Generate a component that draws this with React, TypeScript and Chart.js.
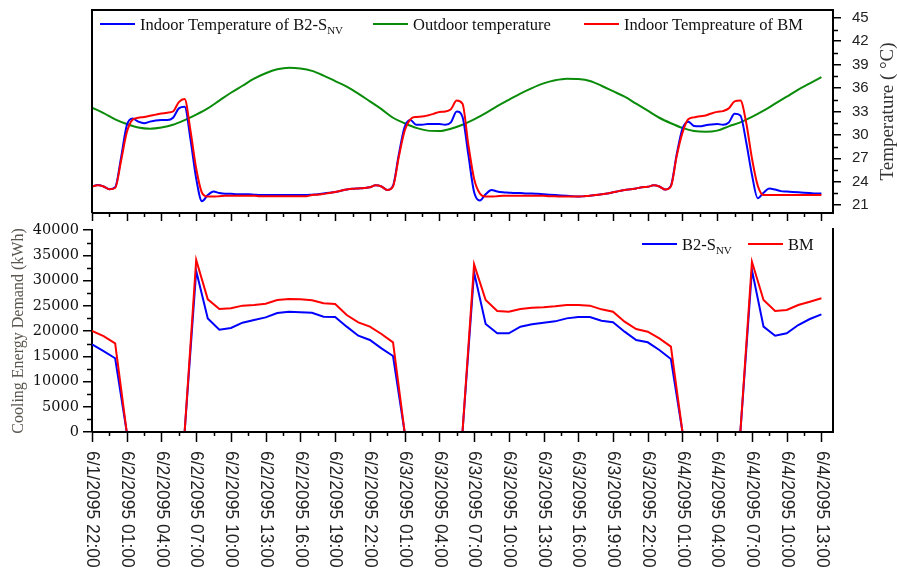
import React, { useEffect, useRef } from 'react';
import { Chart, registerables } from 'chart.js';

Chart.register(...registerables);

// ---------- data ----------
const xTickLabels = [
  '6/1/2095 22:00', '6/2/2095 01:00', '6/2/2095 04:00', '6/2/2095 07:00', '6/2/2095 10:00',
  '6/2/2095 13:00', '6/2/2095 16:00', '6/2/2095 19:00', '6/2/2095 22:00', '6/3/2095 01:00',
  '6/3/2095 04:00', '6/3/2095 07:00', '6/3/2095 10:00', '6/3/2095 13:00', '6/3/2095 16:00',
  '6/3/2095 19:00', '6/3/2095 22:00', '6/4/2095 01:00', '6/4/2095 04:00', '6/4/2095 07:00',
  '6/4/2095 10:00', '6/4/2095 13:00',
];
const tickStepHours = 3;
const axisMaxHours = 64;

// hourly outdoor temperature (°C), from 6/1 22:00
const outdoorTemp = [
  33.5, 32.8, 32.0, 31.4, 30.95, 30.8, 30.95, 31.3, 31.9, 32.6,
  33.4, 34.4, 35.4, 36.3, 37.2, 37.9, 38.4, 38.6, 38.5, 38.2,
  37.6, 36.9, 36.2, 35.3, 34.3, 33.3, 32.2, 31.5, 30.9, 30.55,
  30.5, 30.8, 31.3, 32.0, 32.8, 33.7, 34.5, 35.3, 36.0, 36.6,
  37.0, 37.2, 37.15, 36.9, 36.3, 35.6, 34.9, 34.0, 33.1, 32.2,
  31.5, 30.9, 30.5, 30.4, 30.55, 31.1, 31.6, 32.3, 33.1, 34.0,
  34.9, 35.8, 36.6, 37.4,
];

// half-hourly indoor temperature of B2-S_NV (°C)
const indoorTempB2 = [
  23.4, 23.6, 23.4, 23.05, 23.3, 27.0, 31.2, 32.1, 31.7, 31.5,
  31.7, 31.85, 31.9, 31.9, 32.2, 33.4, 33.6, 29.5, 24.4, 21.5,
  22.3, 22.75, 22.55, 22.45, 22.45, 22.4, 22.4, 22.4, 22.35, 22.3,
  22.3, 22.3, 22.3, 22.3, 22.3, 22.3, 22.3, 22.3, 22.35, 22.4,
  22.5, 22.6, 22.7, 22.85, 23.0, 23.1, 23.15, 23.2, 23.3, 23.55,
  23.4, 22.95, 23.5, 27.5, 31.0, 31.9, 31.3, 31.3, 31.4, 31.4,
  31.4, 31.3, 31.6, 33.0, 32.3, 27.5, 22.7, 21.6, 22.4, 22.95,
  22.75, 22.65, 22.6, 22.55, 22.55, 22.5, 22.5, 22.45, 22.4, 22.35,
  22.3, 22.25, 22.2, 22.15, 22.1, 22.15, 22.2, 22.3, 22.4, 22.5,
  22.65, 22.8, 22.95, 23.05, 23.15, 23.3, 23.35, 23.55, 23.4, 23.0,
  23.5, 27.5, 30.8, 31.7, 31.15, 31.1, 31.25, 31.35, 31.4, 31.3,
  31.6, 32.7, 32.5, 29.1, 24.9, 21.9, 22.6, 23.15, 23.0, 22.8,
  22.75, 22.7, 22.65, 22.6, 22.55, 22.5, 22.5,
];

// half-hourly indoor temperature of BM (°C)
const indoorTempBM = [
  23.4, 23.55, 23.4, 23.05, 23.2, 26.6, 30.3, 31.95, 32.2, 32.3,
  32.45, 32.6, 32.75, 32.85, 33.0, 34.2, 34.6, 30.6, 25.7, 22.6,
  22.1, 22.1, 22.15, 22.2, 22.2, 22.2, 22.2, 22.2, 22.2, 22.15,
  22.15, 22.15, 22.15, 22.15, 22.15, 22.15, 22.15, 22.15, 22.3, 22.35,
  22.45, 22.55, 22.7, 22.85, 23.0, 23.1, 23.15, 23.2, 23.3, 23.55,
  23.4, 22.95, 23.4, 27.2, 30.5, 32.0, 32.3, 32.35, 32.5, 32.7,
  32.95, 33.0, 33.3, 34.4, 34.0, 28.8, 24.4, 22.5, 22.1, 22.1,
  22.15, 22.2, 22.2, 22.2, 22.2, 22.2, 22.2, 22.2, 22.2, 22.15,
  22.15, 22.1, 22.1, 22.1, 22.1, 22.15, 22.2, 22.3, 22.4, 22.5,
  22.65, 22.8, 22.95, 23.05, 23.15, 23.3, 23.35, 23.55, 23.4, 23.0,
  23.4, 27.3, 30.3, 32.0, 32.25, 32.4, 32.5, 32.75, 32.95, 33.05,
  33.4, 34.3, 34.4, 31.6, 27.0, 23.5, 22.3, 22.3, 22.3, 22.3,
  22.3, 22.3, 22.3, 22.3, 22.3, 22.3, 22.3,
];

// hourly cooling energy demand (kWh)
const coolingB2 = [
  17370, 16000, 14600, 0, 0, 0, 0, 0, 0,
  31900, 22500, 20260, 20600, 21650, 22180, 22700, 23560, 23790, 23700,
  23600, 22840, 22770, 20860, 19070, 18220, 16570, 15050,
  0, 0, 0, 0, 0, 0,
  31620, 21390, 19540, 19540, 20860, 21320, 21650, 21910, 22500, 22770,
  22770, 22040, 21720, 19870, 18220, 17760, 16240, 14460,
  0, 0, 0, 0, 0, 0,
  32080, 20860, 19070, 19540, 21190, 22370, 23300,
];
const coolingBM = [
  20000, 19000, 17560, 0, 0, 0, 0, 0, 0,
  34060, 26270, 24350, 24490, 25020, 25150, 25410, 26140, 26340, 26270,
  26070, 25480, 25350, 23170, 21720, 20860, 19400, 17760,
  0, 0, 0, 0, 0, 0,
  33200, 26140, 23960, 23830, 24360, 24620, 24690, 24890, 25150, 25150,
  25020, 24290, 23830, 21850, 20400, 19870, 18550, 16900,
  0, 0, 0, 0, 0, 0,
  33720, 26140, 23960, 24160, 25150, 25800, 26470,
];

const tempTicks = [21, 24, 27, 30, 33, 36, 39, 42, 45];
const tempMin = 20;
const tempMax = 46;
const coolingMax = 40000;
const coolingStep = 5000;

// ---------- styles ----------
const BLUE = '#0000ff';
const RED = '#ff0000';
const GREEN = '#0a8c0a';
const SERIF = '"Liberation Serif", "Times New Roman", serif';
const SANS = '"Liberation Sans", Arial, sans-serif';
const W = 897;
const TOP_H = 222;
const BOT_H = 348;
const PLOT_LEFT = 92;
const PLOT_RIGHT = 833;

function zeroPad(s: any) {
  s.paddingTop = 0;
  s.paddingBottom = 0;
  s.paddingLeft = 0;
  s.paddingRight = 0;
}

// an invisible horizontal axis used only to reserve space
function spacerX(position: string, size: number) {
  return {
    type: 'linear',
    position,
    min: 0,
    max: axisMaxHours,
    display: true,
    ticks: { display: false },
    grid: { display: false, drawTicks: false },
    border: { display: false },
    afterFit: (s: any) => { s.height = size; zeroPad(s); },
  };
}

function drawLegendItem(ctx: CanvasRenderingContext2D, x: number, yLine: number, yBase: number,
  color: string, main: string, sub?: string) {
  ctx.save();
  ctx.strokeStyle = color;
  ctx.lineWidth = 2;
  ctx.beginPath();
  ctx.moveTo(x, yLine);
  ctx.lineTo(x + 35, yLine);
  ctx.stroke();
  ctx.fillStyle = '#111';
  ctx.textAlign = 'left';
  ctx.textBaseline = 'alphabetic';
  ctx.font = `16.5px ${SERIF}`;
  const tx = x + 40;
  ctx.fillText(main, tx, yBase);
  if (sub) {
    const w = ctx.measureText(main).width;
    ctx.font = `11px ${SERIF}`;
    ctx.fillText(sub, tx + w, yBase + 4);
  }
  ctx.restore();
}

function drawXTicks(chart: any, majorLen: number, minorLen: number) {
  const { ctx, chartArea: a, scales } = chart;
  const xs = scales.x;
  ctx.save();
  ctx.strokeStyle = '#000';
  ctx.lineWidth = 1.5;
  ctx.beginPath();
  const last = (xTickLabels.length - 1) * tickStepHours;
  for (let h = 0; h <= last; h += tickStepHours / 2) {
    const major = h % tickStepHours === 0;
    const px = Math.round(xs.getPixelForValue(h)) + 0.5;
    ctx.moveTo(px, a.bottom);
    ctx.lineTo(px, a.bottom + (major ? majorLen : minorLen));
  }
  ctx.stroke();
  ctx.restore();
}

const topDecor = {
  id: 'topDecor',
  afterDatasetsDraw(chart: any) {
    const { ctx, chartArea: a, scales } = chart;
    const ys = scales.y;
    ctx.save();
    ctx.strokeStyle = '#000';
    ctx.lineWidth = 2;
    ctx.beginPath();
    ctx.moveTo(a.left, a.bottom);
    ctx.lineTo(a.left, a.top);
    ctx.lineTo(a.right, a.top);
    ctx.lineTo(a.right, a.bottom);
    ctx.lineTo(a.left, a.bottom);
    ctx.stroke();
    // minor ticks on right axis
    ctx.lineWidth = 1.5;
    ctx.beginPath();
    for (let i = 0; i < tempTicks.length - 1; i++) {
      const v = (tempTicks[i] + tempTicks[i + 1]) / 2;
      const py = Math.round(ys.getPixelForValue(v)) + 0.5;
      ctx.moveTo(a.right, py);
      ctx.lineTo(a.right + 5, py);
    }
    ctx.stroke();
    ctx.restore();
    drawXTicks(chart, 8, 4);
    // legend
    const yl = a.top + 14;
    const yb = a.top + 20;
    drawLegendItem(ctx, a.left + 8, yl, yb, BLUE, 'Indoor Temperature of B2-S', 'NV');
    drawLegendItem(ctx, a.left + 281, yl, yb, GREEN, 'Outdoor temperature');
    drawLegendItem(ctx, a.left + 492, yl, yb, RED, 'Indoor Tempreature of BM');
    // right axis title
    ctx.save();
    ctx.translate(a.right + 55, (a.top + a.bottom) / 2);
    ctx.rotate(-Math.PI / 2);
    ctx.textAlign = 'center';
    ctx.textBaseline = 'middle';
    ctx.fillStyle = '#333';
    ctx.font = `19px ${SERIF}`;
    ctx.fillText('Temperature ( °C)', 0, 0);
    ctx.restore();
  },
};

const bottomDecor = {
  id: 'bottomDecor',
  afterDatasetsDraw(chart: any) {
    const { ctx, chartArea: a, scales } = chart;
    const xs = scales.x;
    const ys = scales.y;
    ctx.save();
    ctx.strokeStyle = '#000';
    ctx.lineWidth = 2;
    ctx.beginPath();
    ctx.moveTo(a.left, a.bottom);
    ctx.lineTo(a.right, a.bottom);
    ctx.lineTo(a.right, a.top - 2);
    ctx.stroke();
    // minor ticks left axis
    ctx.lineWidth = 1.5;
    ctx.beginPath();
    for (let v = coolingStep / 2; v < coolingMax; v += coolingStep) {
      const py = Math.round(ys.getPixelForValue(v)) + 0.5;
      ctx.moveTo(a.left, py);
      ctx.lineTo(a.left - 5, py);
    }
    ctx.stroke();
    ctx.restore();
    drawXTicks(chart, 10, 4);
    // x labels, rotated clockwise
    ctx.save();
    ctx.fillStyle = '#222';
    ctx.font = `17.5px ${SANS}`;
    ctx.textAlign = 'left';
    ctx.textBaseline = 'middle';
    xTickLabels.forEach((lab, i) => {
      const px = xs.getPixelForValue(i * tickStepHours);
      ctx.save();
      ctx.translate(px, a.bottom + 19);
      ctx.rotate(Math.PI / 2);
      ctx.fillText(lab, 0, 0);
      ctx.restore();
    });
    ctx.restore();
    // legend
    drawLegendItem(ctx, 642, a.top + 14, a.top + 20, BLUE, 'B2-S', 'NV');
    drawLegendItem(ctx, 748, a.top + 14, a.top + 20, RED, 'BM');
  },
};

export default function App() {
  const topRef = useRef<HTMLCanvasElement | null>(null);
  const botRef = useRef<HTMLCanvasElement | null>(null);

  useEffect(() => {
    if (!topRef.current || !botRef.current) return;
    const lineBase = { pointRadius: 0, borderWidth: 2, fill: false };

    const topChart = new Chart(topRef.current, {
      type: 'line',
      data: {
        datasets: [
          {
            ...lineBase,
            label: 'Indoor Temperature of B2-SNV',
            data: indoorTempB2.map((v, i) => ({ x: i * 0.5, y: v })),
            borderColor: BLUE,
            cubicInterpolationMode: 'monotone',
            order: 1,
          },
          {
            ...lineBase,
            label: 'Outdoor temperature',
            data: outdoorTemp.map((v, i) => ({ x: i, y: v })),
            borderColor: GREEN,
            cubicInterpolationMode: 'monotone',
            order: 2,
          },
          {
            ...lineBase,
            label: 'Indoor Tempreature of BM',
            data: indoorTempBM.map((v, i) => ({ x: i * 0.5, y: v })),
            borderColor: RED,
            cubicInterpolationMode: 'monotone',
            order: 0,
          },
        ],
      } as any,
      options: {
        animation: false,
        responsive: false,
        maintainAspectRatio: false,
        layout: { padding: { left: PLOT_LEFT, right: 0, top: 0, bottom: 0 } },
        plugins: { legend: { display: false }, tooltip: { enabled: false } },
        scales: {
          x: spacerX('bottom', 9),
          xTop: spacerX('top', 10),
          y: {
            position: 'right',
            min: tempMin,
            max: tempMax,
            afterBuildTicks: (s: any) => { s.ticks = tempTicks.map((v) => ({ value: v })); },
            afterFit: (s: any) => { s.width = W - PLOT_RIGHT; zeroPad(s); },
            ticks: {
              font: { family: SANS, size: 15 },
              color: '#222',
              padding: 11,
              callback: (v: any) => String(v),
            },
            grid: { drawOnChartArea: false, tickLength: 8, color: '#000', lineWidth: 1.5 },
            border: { color: '#000', width: 2 },
          },
        },
      } as any,
      plugins: [topDecor],
    });

    const botChart = new Chart(botRef.current, {
      type: 'line',
      data: {
        datasets: [
          {
            ...lineBase,
            label: 'B2-SNV',
            data: coolingB2.map((v, i) => ({ x: i, y: v })),
            borderColor: BLUE,
            tension: 0,
            order: 1,
          },
          {
            ...lineBase,
            label: 'BM',
            data: coolingBM.map((v, i) => ({ x: i, y: v })),
            borderColor: RED,
            tension: 0,
            order: 0,
          },
        ],
      } as any,
      options: {
        animation: false,
        responsive: false,
        maintainAspectRatio: false,
        layout: { padding: { left: 0, right: W - PLOT_RIGHT, top: 0, bottom: 0 } },
        plugins: { legend: { display: false }, tooltip: { enabled: false } },
        scales: {
          x: spacerX('bottom', 138),
          xTop: spacerX('top', 8),
          y: {
            position: 'left',
            min: 0,
            max: coolingMax,
            afterFit: (s: any) => { s.width = PLOT_LEFT; zeroPad(s); },
            ticks: {
              stepSize: coolingStep,
              font: { family: '"DejaVu Serif", serif', size: 14.5 },
              color: '#111',
              padding: 4,
              callback: (v: any) => String(v),
            },
            grid: { drawOnChartArea: false, tickLength: 9, color: '#000', lineWidth: 1.5 },
            border: { color: '#000', width: 2 },
            title: {
              display: true,
              text: 'Cooling Energy Demand (kWh)',
              font: { family: SERIF, size: 16 },
              color: '#5a564e',
              padding: { top: 9, bottom: 0 },
            },
          },
        },
      } as any,
      plugins: [bottomDecor],
    });

    return () => {
      topChart.destroy();
      botChart.destroy();
    };
  }, []);

  return (
    <div style={{ position: 'absolute', left: 0, top: 0, width: W, height: TOP_H + BOT_H, background: '#fff' }}>
      <canvas ref={topRef} width={W} height={TOP_H}
        style={{ position: 'absolute', left: 0, top: 0, width: W, height: TOP_H, display: 'block' }} />
      <canvas ref={botRef} width={W} height={BOT_H}
        style={{ position: 'absolute', left: 0, top: TOP_H, width: W, height: BOT_H, display: 'block' }} />
    </div>
  );
}
